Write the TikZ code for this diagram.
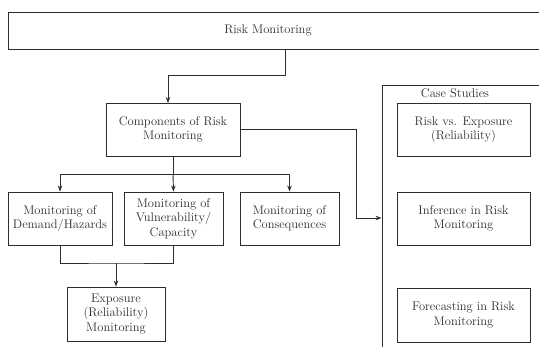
\documentclass[tikz,border=0pt]{standalone}
\usetikzlibrary{arrows.meta,positioning}
\definecolor{ink}{RGB}{45,45,45}

\begin{document}
\begin{tikzpicture}[x=1pt,y=-1pt,
    box/.style={draw=ink,line width=0.9pt,align=center,inner sep=1pt,
      font=\fontsize{12.5}{14.5}\selectfont,text=ink},
    caption/.style={font=\fontsize{12.5}{14.5}\selectfont,text=ink},
    link/.style={draw=ink,line width=0.9pt},
    >={Stealth[length=6pt,width=4.5pt]}]
        \useasboundingbox (0,0) rectangle (539,346);
        \clip (0,0) rectangle (539,346);
        % main boxes
        \node[box,minimum width=537,minimum height=37] (risk) at (276.5,30.5) {};
        \node[caption] (risktext) at (268,30) {Risk Monitoring};
        \node[box,minimum width=134,minimum height=53] (comp) at (173,129.5) {Components of Risk\\Monitoring};
        \node[box,minimum width=104,minimum height=53] (demand) at (60,218.5) {Monitoring of\\Demand/Hazards};
        \node[box,minimum width=99,minimum height=53] (vuln) at (173.5,218.5) {Monitoring of\\Vulnerability/\\Capacity};
        \node[box,minimum width=99,minimum height=53] (cons) at (289.5,218.5) {Monitoring of\\Consequences};
        \node[box,minimum width=98,minimum height=54] (expo) at (116,314) {Exposure\\(Reliability)\\Monitoring};
        % case studies frame
        \node[box,minimum width=163,minimum height=275] (case) at (463.5,222.5) {};
        \node[caption,anchor=north] (casetitle) at (455,85.5) {Case Studies};
        \node[box,minimum width=133,minimum height=53] (cs1) at (463.5,129.5) {Risk vs. Exposure\\(Reliability)};
        \node[box,minimum width=133,minimum height=53] (cs2) at (463.5,218.5) {Inference in Risk\\Monitoring};
        \node[box,minimum width=133,minimum height=54] (cs3) at (463.5,315) {Forecasting in Risk\\Monitoring};
        % connectors
        \coordinate (riskout) at (285,49);
        \coordinate (compin) at (168,103);
        \draw[link,->] (riskout) -- (285,75) -| (compin);
        \coordinate (split) at (173,174);
        \draw[link] (comp.south) -- (split);
        \draw[link,->] (split) -| (demand.north);
        \draw[link,->] (split) -- (vuln.north);
        \draw[link,->] (split) -| (cons.north);
        \coordinate (join) at (116,263);
        \draw[link] (demand.south) |- (join) -| (vuln.south);
        \draw[link,->] (join) -- (expo.north);
        \coordinate (casein) at (case.west |- 0,218);
        \draw[link,->] (comp.east) -- (356,129.5) |- (casein);
      \end{tikzpicture}
\end{document}
